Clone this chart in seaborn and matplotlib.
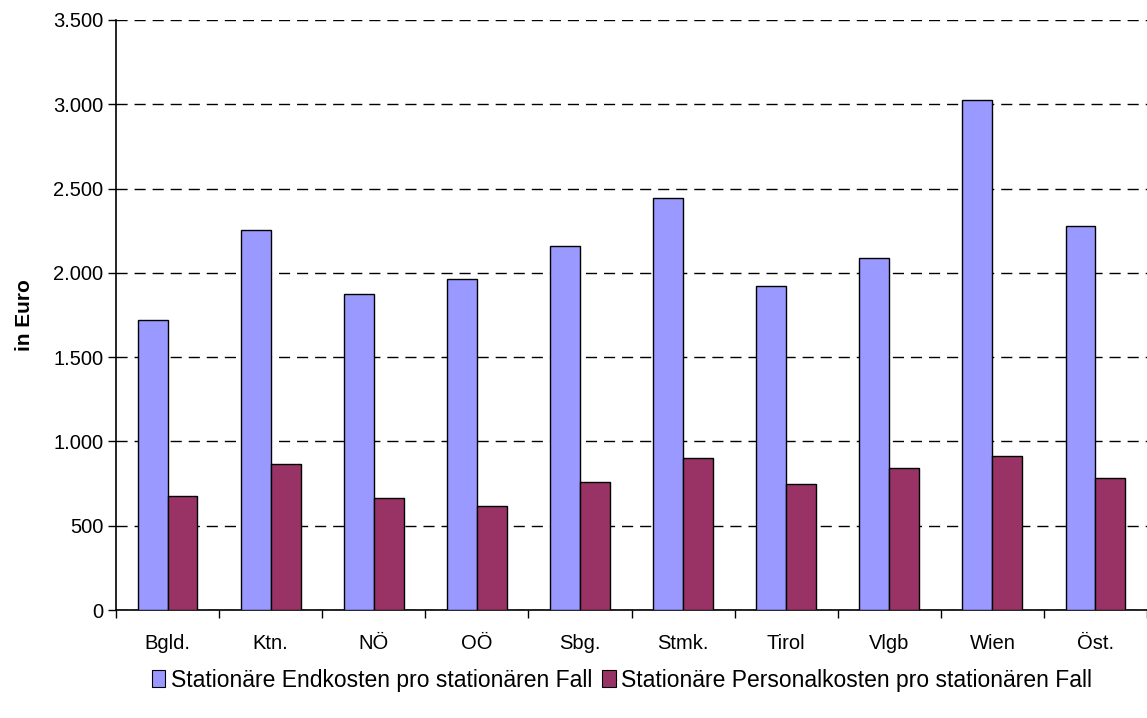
import numpy as np
import pandas as pd
import seaborn as sns
import matplotlib.pyplot as plt
from matplotlib.ticker import FuncFormatter, FixedLocator

# Data
regions = ["Bgld.", "Ktn.", "NÖ", "OÖ", "Sbg.", "Stmk.", "Tirol", "Vlgb", "Wien", "Öst."]
endkosten = [1720, 2255, 1872, 1965, 2158, 2442, 1920, 2086, 3024, 2276]
personalkosten = [674, 864, 662, 615, 757, 900, 745, 840, 912, 781]
series_names = ["Stationäre Endkosten pro stationären Fall",
                "Stationäre Personalkosten pro stationären Fall"]
colors = ["#9999FF", "#993366"]

df = pd.DataFrame({
    "Region": regions * 2,
    "Wert": endkosten + personalkosten,
    "Serie": [series_names[0]] * len(regions) + [series_names[1]] * len(regions),
})

sns.set_theme(style="white")
plt.rcParams['font.family'] = ['Liberation Sans', 'DejaVu Sans']
plt.rcParams.update({'text.color': 'black', 'axes.labelcolor': 'black',
                     'xtick.color': 'black', 'ytick.color': 'black'})

fig = plt.figure(figsize=(11.47, 7.18), dpi=100)
ax = fig.add_axes([116 / 1147, 1 - 610 / 718, 1 - 116 / 1147, 590 / 718])

sns.barplot(data=df, x="Region", y="Wert", hue="Serie", palette=colors,
            width=0.58, edgecolor="black", linewidth=1, saturation=1,
            ax=ax, legend=False, zorder=3)

ax.set_ylim(0, 3500)
ax.set_xlim(-0.5, len(regions) - 0.5)
ax.set_yticks(np.arange(0, 3501, 500))
ax.yaxis.set_major_formatter(FuncFormatter(lambda v, p: f"{int(v):,}".replace(",", ".")))
ax.yaxis.grid(True, linestyle=(0, (8, 5)), color="black", linewidth=1, zorder=0)
ax.set_axisbelow(True)

# category ticks at group boundaries, labels centred
ax.xaxis.set_minor_locator(FixedLocator(np.arange(-0.5, len(regions), 1.0)))
ax.tick_params(axis="x", which="major", length=0, pad=17, labelsize=14.5)
ax.tick_params(axis="x", which="minor", length=6, width=1, color="black", direction="out", bottom=True)
ax.tick_params(axis="y", length=6, width=1, color="black", direction="out", left=True, labelsize=14.5, pad=3)

for s in ["top", "right"]:
    ax.spines[s].set_visible(False)
for s in ["left", "bottom"]:
    ax.spines[s].set_color("black")
    ax.spines[s].set_linewidth(1.2)

ax.set_xlabel("")
ax.set_ylabel("in Euro", fontsize=15, fontweight="bold", labelpad=14)

handles = [plt.Rectangle((0, 0), 1, 1, facecolor=c, edgecolor="black", linewidth=0.8) for c in colors]
fig.legend(handles, series_names, loc="center", bbox_to_anchor=(622 / 1147, 1 - 680 / 718),
           ncol=2, frameon=False, fontsize=16.5, handlelength=0.6, handleheight=0.8,
           handletextpad=0.25, columnspacing=0.4)

fig.savefig("out.png", dpi=100)
